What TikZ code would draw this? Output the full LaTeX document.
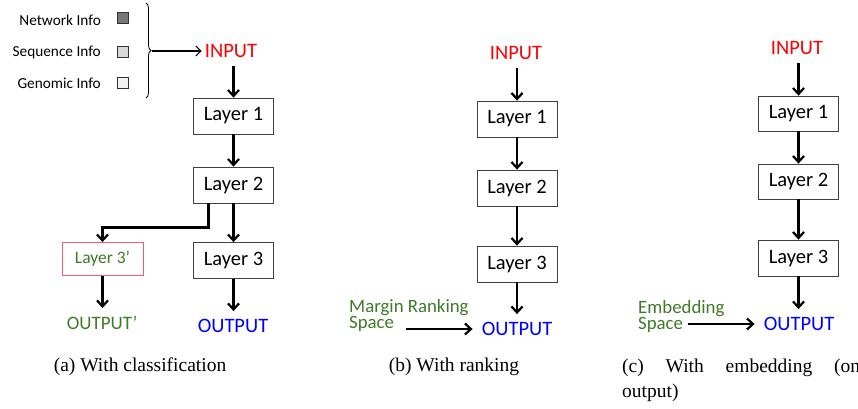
\documentclass[tikz,border=0pt]{standalone}
\usepackage{fontspec}
\setmainfont{Liberation Serif}
\newfontfamily\calib{Carlito}
\usetikzlibrary{arrows.meta,decorations.pathreplacing}
\definecolor{lgreen}{RGB}{62,122,40}
\definecolor{lred}{RGB}{240,96,112}
\begin{document}
\begin{tikzpicture}[x=1pt,y=-1pt,
  layer/.style={draw=black!75, line width=0.8pt, minimum width=80pt, minimum height=36pt, inner sep=0pt, font=\calib\fontsize{20.5}{24}\selectfont},
  iotext/.style={inner xsep=3pt, inner ysep=8pt, font=\calib\fontsize{20.5}{24}\selectfont},
  legtext/.style={anchor=east, inner sep=0pt, font=\calib\fontsize{15.3}{18}\selectfont},
  legbox/.style={draw=black!80, line width=0.7pt, minimum size=11.5pt, inner sep=0pt},
  sidetext/.style={anchor=west, align=left, inner sep=0pt, text=lgreen, font=\calib\fontsize{18.8}{16}\selectfont},
  caption/.style={inner sep=0pt, font=\fontsize{19.5}{25}\selectfont},
  arr/.style={line width=2.2pt, -{Straight Barb[length=6pt,width=11pt]}},
  thinarr/.style={line width=1.2pt, -{Straight Barb[length=5pt,width=10pt]}}
]
\useasboundingbox (0,0) rectangle (858,408);

% ---------- legend ----------
\node[legtext] (netT) at (101,20) {Network Info};
\node[legtext] (seqT) at (101,52) {Sequence Info};
\node[legtext] (genT) at (101,83) {Genomic Info};
\node[legbox, fill=black!53] (netB) at (123,18) {};
\node[legbox, fill=black!15] (seqB) at (123,52) {};
\node[legbox, fill=black!5] (genB) at (123,83) {};
\draw[line width=0.8pt, decorate, decoration={brace, amplitude=5pt}] (146,3) -- (146,98);
\coordinate (braceTip) at (152,51);

% ---------- panel (a) ----------
\node[iotext, text=red] (inA) at (231,51) {INPUT};
\node[layer] (l1A) at (233.5,116) {Layer 1};
\node[layer] (l2A) at (233.5,185) {Layer 2};
\node[layer] (l3A) at (233.5,260.5) {Layer 3};
\node[iotext, text=blue] (outA) at (233,326) {OUTPUT};
\node[layer, draw=lred, minimum width=81pt, minimum height=33pt, text=lgreen, font=\calib\fontsize{17.5}{21}\selectfont] (l3pA) at (102.5,259) {Layer 3’};
\node[iotext, text=lgreen, font=\calib\fontsize{19}{23}\selectfont] (outpA) at (102,323) {OUTPUT’};

\draw[thinarr] (braceTip) -- (inA.west);
\draw[arr] (inA.south -| l1A.north) -- (l1A.north);
\draw[arr] (l1A.south) -- (l2A.north);
\draw[arr] (l2A.south) -- (l3A.north);
\draw[arr] (l3A.south) -- (outA.north -| l3A.south);
\draw[arr] ([xshift=-25pt]l2A.south) -- ++(0,24) -| (l3pA.north);
\draw[arr] (l3pA.south) -- (outpA.north -| l3pA.south);
\node[caption] (capA) at (140,367) {(a) With classification};

% ---------- panel (b) ----------
\node[iotext, text=red] (inB) at (516,53) {INPUT};
\node[layer] (l1B) at (517,119) {Layer 1};
\node[layer] (l2B) at (517,188) {Layer 2};
\node[layer] (l3B) at (517,264) {Layer 3};
\node[iotext, text=blue] (outB) at (517,329) {OUTPUT};
\node[sidetext] (mrB) at (349,315.5) {Margin Ranking\\Space};
\coordinate (mrStart) at (406,329);
\draw[arr] (inB.south -| l1B.north) -- (l1B.north);
\draw[arr] (l1B.south) -- (l2B.north);
\draw[arr] (l2B.south) -- (l3B.north);
\draw[arr] (l3B.south) -- (outB.north -| l3B.south);
\draw[arr, shorten >=6pt] (mrStart) -- (outB.west);
\node[caption] (capB) at (454,367) {(b) With ranking};

% ---------- panel (c) ----------
\node[iotext, text=red] (inC) at (797,48) {INPUT};
\node[layer, minimum height=35pt] (l1C) at (798.5,113.5) {Layer 1};
\node[layer, minimum height=35pt] (l2C) at (798.5,181.5) {Layer 2};
\node[layer] (l3C) at (798.5,258) {Layer 3};
\node[iotext, text=blue] (outC) at (799,324) {OUTPUT};
\node[sidetext] (emC) at (638,316.5) {Embedding\\Space};
\coordinate (emStart) at (688,324);
\draw[arr] (inC.south -| l1C.north) -- (l1C.north);
\draw[arr] (l1C.south) -- (l2C.north);
\draw[arr] (l2C.south) -- (l3C.north);
\draw[arr] (l3C.south) -- (outC.north -| l3C.south);
\draw[arr, shorten >=6pt] (emStart) -- (outC.west);
\node[caption, anchor=north west, align=left] (capC) at (622,359) {\makebox[238pt][s]{(c) With embedding (on}\\output)};
\end{tikzpicture}
\end{document}
